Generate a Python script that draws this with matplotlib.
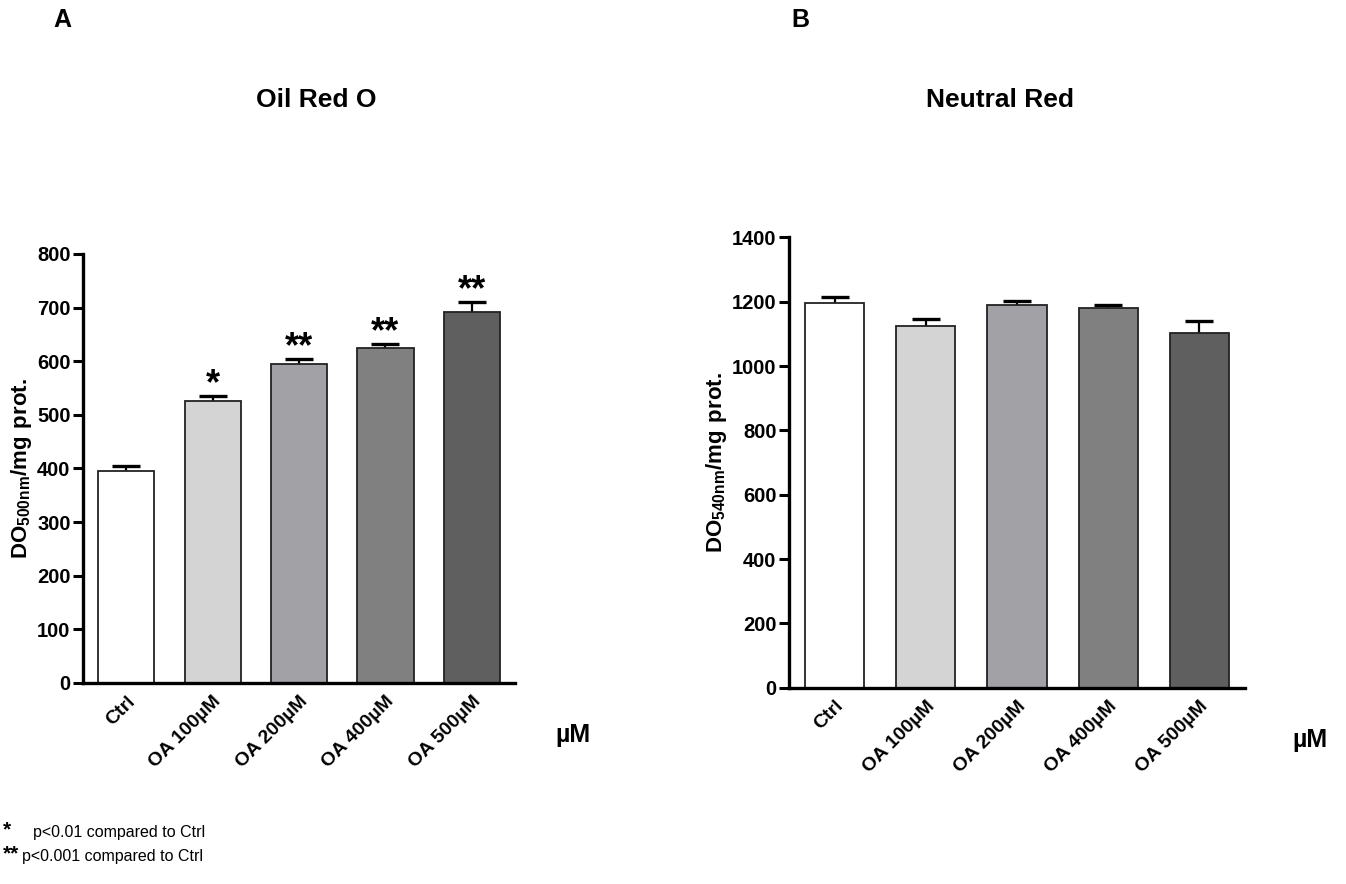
import matplotlib
matplotlib.use("Agg")
import matplotlib.pyplot as plt

plt.rcParams['font.family'] = ['Liberation Sans', 'DejaVu Sans']
plt.rcParams['font.weight'] = 'bold'
plt.rcParams['mathtext.fontset'] = 'custom'
plt.rcParams['mathtext.rm'] = 'Liberation Sans:bold'
plt.rcParams['mathtext.bf'] = 'Liberation Sans:bold'

groups = ['Ctrl', 'OA 100µM', 'OA 200µM', 'OA 400µM', 'OA 500µM']
bar_colors = ['#ffffff', '#d4d4d4', '#a2a2a6', '#808080', '#5f5f5f']

oil_red = [395, 525, 595, 625, 692]
oil_red_err = [10, 10, 10, 8, 18]
oil_red_sig = ['', '*', '**', '**', '**']

neutral_red = [1196, 1126, 1191, 1181, 1104]
neutral_red_err = [20, 19, 10, 9, 37]


def panel(ax, values, errors, ymax, step, ylabel, sig=None):
    x = range(len(groups))
    # symmetric error bars drawn under the bars, so only the upper half shows
    ax.errorbar(x, values, yerr=errors, fmt='none', ecolor='black',
                elinewidth=1.6, capsize=10, capthick=2.4, zorder=1)
    ax.bar(x, values, width=0.65, color=bar_colors, edgecolor='#222222',
           linewidth=1.3, zorder=2)
    ax.set_xlim(-0.5, 4.5)
    ax.set_ylim(0, ymax)
    ax.set_yticks(range(0, ymax + 1, step))
    ax.set_xticks(list(x))
    ax.set_xticklabels(groups, rotation=45, ha='right', rotation_mode='anchor', fontsize=14)
    ax.tick_params(axis='x', length=0, pad=7)
    ax.tick_params(axis='y', length=7, width=2.2, labelsize=14.5, pad=2)
    for s in ['top', 'right']:
        ax.spines[s].set_visible(False)
    for s in ['left', 'bottom']:
        ax.spines[s].set_linewidth(2.4)
        ax.spines[s].set_zorder(3)
    ax.set_ylabel(ylabel, fontsize=16, labelpad=2)
    if sig:
        for i, s in enumerate(sig):
            if s:
                ax.text(i, values[i] + errors[i] + ymax * 0.004, s, ha='center', va='baseline',
                        fontsize=26)


fig = plt.figure(figsize=(13.46, 8.84), dpi=100)

ax1 = fig.add_axes([0.0617, 0.2274, 0.321, 0.4853])
panel(ax1, oil_red, oil_red_err, 800, 100, r'$\mathbf{DO_{500nm}/mg\ prot.}$', oil_red_sig)

ax2 = fig.add_axes([0.5862, 0.222, 0.3388, 0.5095])
panel(ax2, neutral_red, neutral_red_err, 1400, 200, r'$\mathbf{DO_{540nm}/mg\ prot.}$')

fig.text(62 / 1346, 1 - 20 / 884, 'A', fontsize=18, ha='center', va='center')
fig.text(800 / 1346, 1 - 20 / 884, 'B', fontsize=18, ha='center', va='center')
fig.text(316 / 1346, 1 - 100 / 884, 'Oil Red O', fontsize=19, ha='center', va='center')
fig.text(1000 / 1346, 1 - 100 / 884, 'Neutral Red', fontsize=19, ha='center', va='center')

fig.text(573 / 1346, 1 - 735 / 884, 'µM', fontsize=18, ha='center', va='center')
fig.text(1310 / 1346, 1 - 740 / 884, 'µM', fontsize=18, ha='center', va='center')

fig.text(3 / 1346, 1 - 830 / 884, '*', fontsize=15, va='center')
fig.text(33 / 1346, 1 - 832 / 884, 'p<0.01 compared to Ctrl', fontsize=11.5,
         fontweight='normal', va='center')
fig.text(3 / 1346, 1 - 854 / 884, '**', fontsize=15, va='center')
fig.text(22 / 1346, 1 - 856 / 884, 'p<0.001 compared to Ctrl', fontsize=11.5,
         fontweight='normal', va='center')

fig.savefig('out.png', dpi=100)
